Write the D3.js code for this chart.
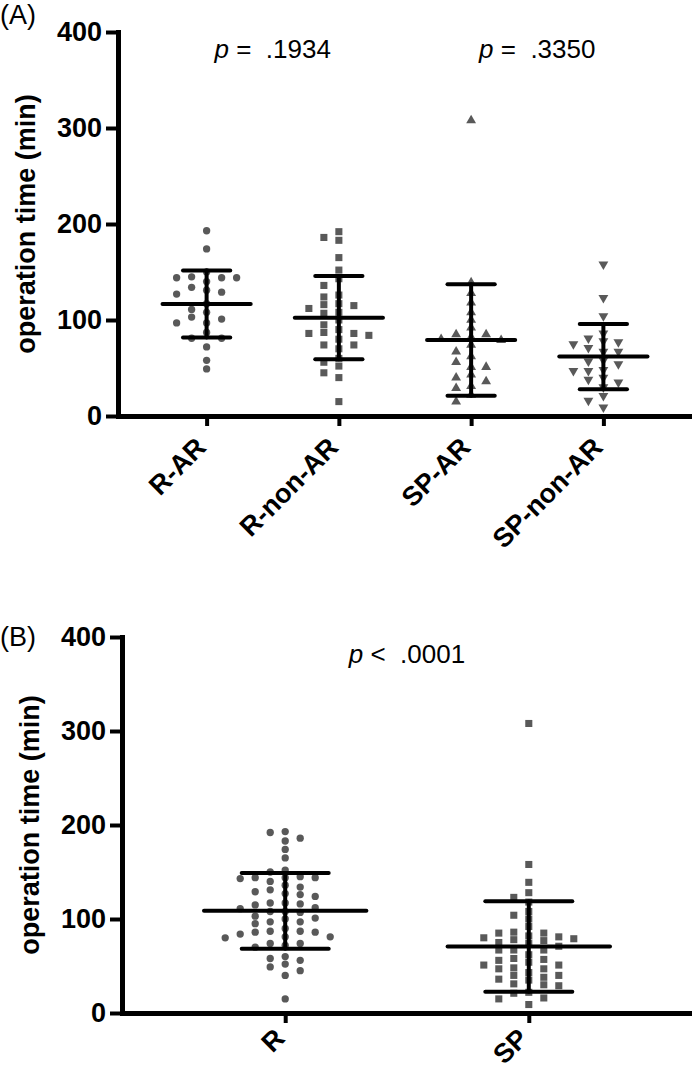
<!DOCTYPE html>
<html>
<head>
<meta charset="utf-8">
<script src="https://cdn.jsdelivr.net/npm/d3@7"></script>
<style>
  body { margin: 0; background: #fff; }
  text { font-family: "Liberation Sans", Arial, sans-serif; }
</style>
</head>
<body>
<svg id="chart" width="692" height="1074"></svg>
<script>
// categories
const groupsA = ['R-AR', 'R-non-AR', 'SP-AR', 'SP-non-AR'];
const groupsB = ['R', 'SP'];

// operation time (min)
const rAR = [193, 174, 150, 145, 144, 144, 144, 140, 134, 131, 129, 127, 117, 111, 108, 103, 101, 97, 97, 87, 81, 81, 72, 58, 49];
const rNonAR = [192, 186, 183, 165, 152, 143, 136, 126, 124, 117, 116, 115, 112, 108, 107, 100, 95, 90, 87, 86, 86, 84, 80, 74, 74, 70, 60, 56, 52, 45, 40, 15];
const spAR = [308, 139, 128, 118, 108, 100, 92, 85, 85, 82, 80, 79, 74, 67, 62, 56, 51, 51, 43, 40, 36, 31, 29, 22, 15];
const spNonAR = [158, 123, 104, 86, 81, 78, 77, 75, 71, 67, 67, 57, 58, 54, 48, 47, 47, 40, 38, 35, 30, 21, 16, 9];

// panel B pools the A groups
const rAll = rAR.concat(rNonAR);
const spAll = spAR.concat(spNonAR);

const yTicks = [0, 100, 200, 300, 400];
const pTextA = ['.1934', '.3350'];
const pTextB = ['.0001'];

const svg = d3.select('#chart');
const grey = '#595959';
const boldSize = 27;

function swarm(values, y, cx, step, gap) {
  const placed = [];
  return values.slice().sort((a, b) => b - a).map(v => {
    const py = y(v);
    let k = 0;
    for (let i = 0; ; i++) {
      k = i === 0 ? 0 : (i % 2 ? -Math.ceil(i / 2) : Math.ceil(i / 2));
      if (!placed.some(p => p.k === k && Math.abs(p.py - py) < gap)) break;
    }
    const pt = { v, py, k, px: cx + k * step };
    placed.push(pt);
    return pt;
  });
}

function drawPanel(p) {
  const y = d3.scaleLinear().domain([0, 400]).range([p.y0, p.yTop]);
  const x = d3.scalePoint().domain(p.cats).range([p.left, p.right]).padding(0.67);
  const step = x.step();
  const g = svg.append('g');

  p.series.forEach((vals, i) => {
    const cx = x(p.cats[i]);
    const shape = p.shapes[i];
    const sym = d3.symbol().type(shape.type).size(shape.size);
    g.append('g').selectAll('path')
      .data(swarm(vals, y, cx, 15, 7))
      .join('path')
      .attr('d', sym)
      .attr('transform', d => `translate(${d.px},${d.py})` + (shape.flip ? ' rotate(180)' : ''))
      .attr('fill', grey);

    const m = d3.mean(vals), sd = d3.deviation(vals);
    const segs = [
      [cx - step / 3, y(m), cx + step / 3, y(m)],
      [cx - step / 5.6, y(m + sd), cx + step / 5.6, y(m + sd)],
      [cx - step / 5.6, y(m - sd), cx + step / 5.6, y(m - sd)],
      [cx, y(m + sd), cx, y(m - sd)]
    ];
    g.append('g').selectAll('line')
      .data(segs)
      .join('line')
      .attr('x1', d => d[0]).attr('y1', d => d[1])
      .attr('x2', d => d[2]).attr('y2', d => d[3])
      .attr('stroke', '#000')
      .attr('stroke-width', 4)
      .attr('stroke-linecap', 'round');
  });

  // y axis
  g.append('g')
    .attr('transform', `translate(${p.left},0)`)
    .call(d3.axisLeft(y).tickValues(yTicks).tickSize(12).tickSizeOuter(0).tickPadding(4))
    .call(a => a.select('.domain').attr('stroke-width', 5).attr('stroke-linecap', 'square'))
    .call(a => a.selectAll('.tick line').attr('stroke-width', 4))
    .call(a => a.selectAll('.tick text')
      .attr('font-size', boldSize).attr('font-weight', 'bold')
      .attr('font-family', '"Liberation Sans", Arial, sans-serif').attr('fill', '#000'));

  // x axis
  g.append('g')
    .attr('transform', `translate(0,${p.y0})`)
    .call(d3.axisBottom(x).tickSize(10).tickSizeOuter(0).tickFormat(''))
    .call(a => a.select('.domain').attr('stroke-width', 5).attr('stroke-linecap', 'square'))
    .call(a => a.selectAll('.tick line').attr('stroke-width', 4));

  g.append('g').selectAll('text')
    .data(p.cats)
    .join('text')
    .attr('transform', d => `translate(${x(d) + 1},${p.y0 + p.labelDy}) rotate(-45)`)
    .attr('text-anchor', 'end')
    .attr('font-size', boldSize)
    .attr('font-weight', 'bold')
    .text(d => d);

  // axis title
  g.append('text')
    .attr('transform', `translate(${p.left - 83},${(p.y0 + p.yTop) / 2}) rotate(-90)`)
    .attr('text-anchor', 'middle')
    .attr('font-size', boldSize)
    .attr('font-weight', 'bold')
    .text('operation time (min)');

  // p values
  p.pvals.forEach((pv, i) => {
    const cx = (x(p.cats[2 * i]) + x(p.cats[2 * i + 1])) / 2;
    const t = g.append('text')
      .attr('x', cx)
      .attr('y', p.yTop + 26)
      .attr('text-anchor', 'middle')
      .attr('font-size', 26)
      .style('white-space', 'pre');
    t.append('tspan').attr('font-style', 'italic').text('p');
    t.append('tspan').text(` ${p.sign}  ${pv}`);
  });

  // panel letter
  g.append('text')
    .attr('x', 0)
    .attr('y', p.letterY)
    .attr('font-family', '"Liberation Serif", "Times New Roman", serif')
    .attr('font-size', 27)
    .text(p.letter);
}

drawPanel({
  cats: groupsA,
  series: [rAR, rNonAR, spAR, spNonAR],
  shapes: [
    { type: d3.symbolCircle, size: 42 },
    { type: d3.symbolSquare, size: 50 },
    { type: d3.symbolTriangle, size: 42 },
    { type: d3.symbolTriangle, size: 42, flip: true }
  ],
  left: 118, right: 692, y0: 416, yTop: 32, labelDy: 33,
  pvals: pTextA, sign: '=',
  letter: '(A)', letterY: 24
});

drawPanel({
  cats: groupsB,
  series: [rAll, spAll],
  shapes: [
    { type: d3.symbolCircle, size: 42 },
    { type: d3.symbolSquare, size: 50 }
  ],
  left: 122, right: 692, y0: 1013, yTop: 637, labelDy: 27,
  pvals: pTextB, sign: '<',
  letter: '(B)', letterY: 646
});
</script>
</body>
</html>
